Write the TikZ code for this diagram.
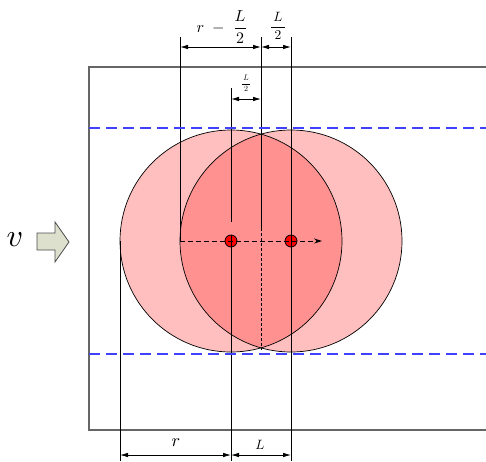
\documentclass[tikz,border=0pt]{standalone}
\usepackage{amsmath}
\usepackage{xcolor}
\usetikzlibrary{arrows.meta}

\definecolor{pinkA}{RGB}{255,191,191}
\definecolor{pinkB}{RGB}{255,145,145}
\definecolor{laneblue}{RGB}{64,64,255}
\definecolor{arrowfill}{RGB}{221,224,204}

\begin{document}
\begin{tikzpicture}[x=1pt, y=-1pt,
    rim/.style={draw=black, line width=0.7pt},
    guide/.style={draw=black, line width=0.9pt},
    dimline/.style={{Latex[length=8pt,width=4.5pt]}-{Latex[length=8pt,width=4.5pt]}, line width=0.8pt},
    lanedash/.style={draw=laneblue, line width=2pt, dash pattern=on 11pt off 6pt},
    centre/.style={circle, draw=black, fill=red, minimum size=12pt, inner sep=0pt, line width=0.8pt},
    lbl/.style={inner sep=0.5pt},
]
\useasboundingbox (0,0) rectangle (486,461);

% ---- Cadre ----
\draw[draw=black!60, line width=1.3pt] (486,67) -- (89,67) -- (89,430) -- (486,430);

% ---- Deux disques et lentille ----
\coordinate (cA) at (231,241);
\coordinate (cB) at (291,241);
\fill[pinkA] (cA) circle[radius=111pt];
\fill[pinkA] (cB) circle[radius=111pt];
\begin{scope}
    \clip (cA) circle[radius=111pt];
    \fill[pinkB] (cB) circle[radius=111pt];
\end{scope}
\draw[rim] (cA) circle[radius=111pt];
\draw[rim] (cB) circle[radius=111pt];

% ---- Centres ----
\node[centre] (dotA) at (cA) {};
\node[centre] (dotB) at (cB) {};

% ---- Lignes de rappel ----
\coordinate (lnA0) at (120,241);  \coordinate (lnA1) at (120,461);
\coordinate (lnB0) at (180,37);   \coordinate (lnB1) at (180,241);
\coordinate (lnC0) at (231,88);   \coordinate (lnC1) at (231,222);
\coordinate (lnC2) at (231,461);
\coordinate (lnD0) at (261,37);   \coordinate (lnD1) at (261,228);
\coordinate (lnD2) at (261,350);
\coordinate (lnE0) at (291,37);   \coordinate (lnE1) at (291,461);
\draw[guide] (lnA0) -- (lnA1);
\draw[guide] (lnB0) -- (lnB1);
\draw[guide] (lnC0) -- (lnC1);
\draw[guide] (dotA.north) -- (lnC2);
\draw[guide] (lnD0) -- (lnD1);
\draw[line width=0.6pt, dash pattern=on 3pt off 2pt] (lnD1) -- (lnD2);
\draw[guide] (lnE0) -- (lnE1);

% ---- Axe pointillé ----
\coordinate (axEnd) at (322,241);
\draw[line width=0.8pt, dash pattern=on 5pt off 3pt, -{Stealth[length=8pt,width=5pt]}] (lnB1) -- (axEnd);

% ---- Limites de voie ----
\foreach \yy/\nm in {128/up, 354/dn} {
    \coordinate (lane\nm0) at (89,\yy);
    \coordinate (lane\nm1) at (486,\yy);
    \draw[lanedash] (lane\nm0) -- (lane\nm1);
}

% ---- Cotes du haut ----
\coordinate (dT1) at (180,47);
\coordinate (dT2) at (261,47);
\coordinate (dT3) at (291,47);
\draw[dimline] (dT1) -- (dT2);
\draw[dimline] (dT2) -- (dT3);
\node[lbl, scale=1.6] (labRL) at (222,27) {$r\;-\;\dfrac{L}{2}$};
\node[lbl, scale=1.35] (labLh) at (278,26) {$\dfrac{\,L\,}{\,2\,}$};

\coordinate (dM1) at (231,99);
\coordinate (dM2) at (261,99);
\draw[dimline] (dM1) -- (dM2);
\node[lbl, scale=0.8] (labLs) at (246,83) {$\dfrac{\,L\,}{\,2\,}$};

% ---- Cotes du bas ----
\coordinate (dB1) at (120,455);
\coordinate (dB2) at (231,455);
\coordinate (dB3) at (291,455);
\draw[dimline] (dB1) -- (dB2);
\draw[dimline] (dB2) -- (dB3);
\node[lbl, scale=1.8] (labR) at (176,443) {$r$};
\node[lbl, scale=1.35] (labL) at (260,445) {$L$};

% ---- Vitesse ----
\node[lbl, scale=3.2] (vel) at (15,240) {$v$};
\draw[fill=arrowfill, draw=black!70, line width=0.8pt]
    (37,233) -- (55,233) -- (55,222) -- (69,242) -- (55,262) -- (55,250) -- (37,250) -- cycle;

\end{tikzpicture}
\end{document}
